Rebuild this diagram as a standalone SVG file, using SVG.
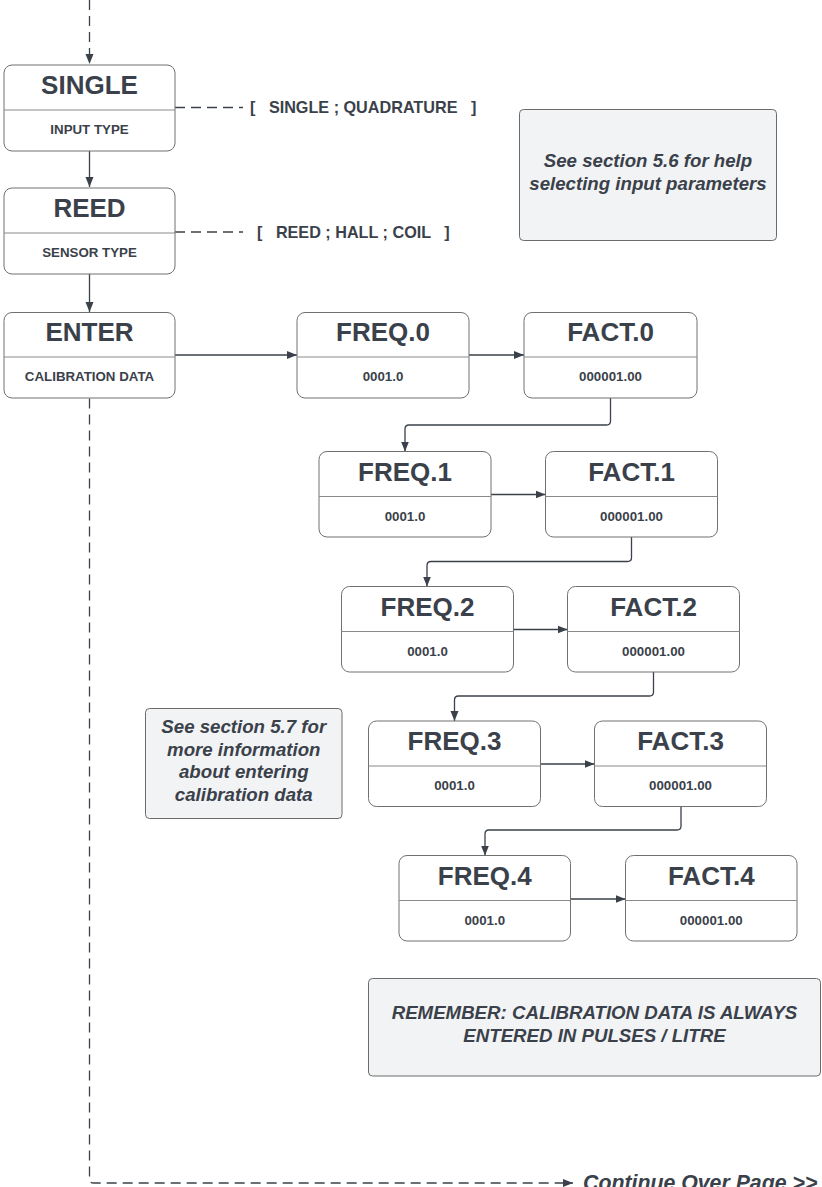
<svg xmlns="http://www.w3.org/2000/svg" width="822" height="1187" viewBox="0 0 822 1187">
<style>
.box{fill:#ffffff;stroke:#707070;stroke-width:1}
.div{stroke:#8a8a8a;stroke-width:1}
.note{fill:#f2f3f5;stroke:#6b6b6b;stroke-width:1}
.t{font-family:"Liberation Sans",Arial,sans-serif;font-weight:bold;font-size:26px;fill:#3a414a;text-anchor:middle}
.s{font-family:"Liberation Sans",Arial,sans-serif;font-weight:bold;font-size:13.3px;fill:#3a414a;text-anchor:middle}
.o{font-family:"Liberation Sans",Arial,sans-serif;font-weight:bold;font-size:16.2px;fill:#3a414a;white-space:pre}
.n{font-family:"Liberation Sans",Arial,sans-serif;font-weight:bold;font-style:italic;font-size:18.67px;fill:#3a414a;text-anchor:middle}
.c{fill:none;stroke:#3a414a;stroke-width:1.3}
.d{fill:none;stroke:#3a414a;stroke-width:1.3;stroke-dasharray:10 6}
</style>
<defs>
<marker id="ah" viewBox="0 0 10 10" refX="10" refY="5" markerWidth="10" markerHeight="10" markerUnits="userSpaceOnUse" orient="auto">
<path d="M0 1 L10 5 L0 9 Z" fill="#3a414a"/>
</marker>
</defs>

<g id="connectors">
<path class="d" d="M89.5 0 V64" marker-end="url(#ah)"/>
<path class="c" d="M89.5 151 V187" marker-end="url(#ah)"/>
<path class="c" d="M89.5 274 V312" marker-end="url(#ah)"/>
<path class="d" d="M175 107.5 H243"/>
<path class="d" d="M175 232 H243"/>
<path class="c" d="M175 355 H297" marker-end="url(#ah)"/>
<path class="c" d="M469 355 H524" marker-end="url(#ah)"/>
<path class="c" d="M610.5 398 V421 Q610.5 425 606.5 425 H409 Q405 425 405 429 V451.5" marker-end="url(#ah)"/>
<path class="c" d="M491 494.5 H545.5" marker-end="url(#ah)"/>
<path class="c" d="M631.5 537 V557.5 Q631.5 561.5 627.5 561.5 H431 Q427 561.5 427 565.5 V586.5" marker-end="url(#ah)"/>
<path class="c" d="M513.5 629.5 H567.5" marker-end="url(#ah)"/>
<path class="c" d="M653.5 672 V692 Q653.5 696 649.5 696 H458.5 Q454.5 696 454.5 700 V721" marker-end="url(#ah)"/>
<path class="c" d="M540.5 764 H594.5" marker-end="url(#ah)"/>
<path class="c" d="M681 806.5 V826 Q681 830 677 830 H489 Q485 830 485 834 V855.5" marker-end="url(#ah)"/>
<path class="c" d="M570.5 899 H625.5" marker-end="url(#ah)"/>
<path class="d" d="M89.5 398.5 V1179 Q89.5 1183 93.5 1183 H573" marker-end="url(#ah)"/>
</g>

<g id="single">
<rect class="box" x="4" y="65" width="171" height="86" rx="8"/>
<line class="div" x1="4" y1="110" x2="175" y2="110"/>
<text class="t" x="89.5" y="94">SINGLE</text>
<text class="s" x="89.5" y="134">INPUT TYPE</text>
</g>
<text id="single-options" class="o" x="250" y="113">[   SINGLE ; QUADRATURE   ]</text>

<g id="reed">
<rect class="box" x="4" y="188" width="171" height="86" rx="8"/>
<line class="div" x1="4" y1="233" x2="175" y2="233"/>
<text class="t" x="89.5" y="217">REED</text>
<text class="s" x="89.5" y="257">SENSOR TYPE</text>
</g>
<text id="reed-options" class="o" x="257" y="238">[   REED ; HALL ; COIL   ]</text>

<g id="enter">
<rect class="box" x="4" y="312.5" width="171" height="85.5" rx="8"/>
<line class="div" x1="4" y1="357" x2="175" y2="357"/>
<text class="t" x="89.5" y="341">ENTER</text>
<text class="s" x="89.5" y="381">CALIBRATION DATA</text>
</g>

<g id="freq0">
<rect class="box" x="297" y="312.5" width="172" height="85.5" rx="8"/>
<line class="div" x1="297" y1="357" x2="469" y2="357"/>
<text class="t" x="383" y="341">FREQ.0</text>
<text class="s" x="383" y="381">0001.0</text>
</g>
<g id="fact0">
<rect class="box" x="524" y="312.5" width="173" height="85.5" rx="8"/>
<line class="div" x1="524" y1="357" x2="697" y2="357"/>
<text class="t" x="610.5" y="341">FACT.0</text>
<text class="s" x="610.5" y="381">000001.00</text>
</g>

<g id="freq1">
<rect class="box" x="319" y="451.5" width="172" height="85.5" rx="8"/>
<line class="div" x1="319" y1="496.5" x2="491" y2="496.5"/>
<text class="t" x="405" y="480.5">FREQ.1</text>
<text class="s" x="405" y="520.5">0001.0</text>
</g>
<g id="fact1">
<rect class="box" x="545.5" y="451.5" width="172" height="85.5" rx="8"/>
<line class="div" x1="545.5" y1="496.5" x2="717.5" y2="496.5"/>
<text class="t" x="631.5" y="480.5">FACT.1</text>
<text class="s" x="631.5" y="520.5">000001.00</text>
</g>

<g id="freq2">
<rect class="box" x="341.5" y="586.5" width="172" height="85.5" rx="8"/>
<line class="div" x1="341.5" y1="631.5" x2="513.5" y2="631.5"/>
<text class="t" x="427.5" y="615.5">FREQ.2</text>
<text class="s" x="427.5" y="655.5">0001.0</text>
</g>
<g id="fact2">
<rect class="box" x="567.5" y="586.5" width="172" height="85.5" rx="8"/>
<line class="div" x1="567.5" y1="631.5" x2="739.5" y2="631.5"/>
<text class="t" x="653.5" y="615.5">FACT.2</text>
<text class="s" x="653.5" y="655.5">000001.00</text>
</g>

<g id="freq3">
<rect class="box" x="368.5" y="721" width="172" height="85.5" rx="8"/>
<line class="div" x1="368.5" y1="766" x2="540.5" y2="766"/>
<text class="t" x="454.5" y="750">FREQ.3</text>
<text class="s" x="454.5" y="790">0001.0</text>
</g>
<g id="fact3">
<rect class="box" x="594.5" y="721" width="172" height="85.5" rx="8"/>
<line class="div" x1="594.5" y1="766" x2="766.5" y2="766"/>
<text class="t" x="680.5" y="750">FACT.3</text>
<text class="s" x="680.5" y="790">000001.00</text>
</g>

<g id="freq4">
<rect class="box" x="399" y="855.5" width="171.5" height="85.5" rx="8"/>
<line class="div" x1="399" y1="900.5" x2="570.5" y2="900.5"/>
<text class="t" x="484.75" y="884.5">FREQ.4</text>
<text class="s" x="484.75" y="924.5">0001.0</text>
</g>
<g id="fact4">
<rect class="box" x="625.5" y="855.5" width="171.5" height="85.5" rx="8"/>
<line class="div" x1="625.5" y1="900.5" x2="797" y2="900.5"/>
<text class="t" x="711.25" y="884.5">FACT.4</text>
<text class="s" x="711.25" y="924.5">000001.00</text>
</g>

<g id="note-input">
<rect class="note" x="519.5" y="109.5" width="257" height="131" rx="4"/>
<text class="n" x="648" y="166.5">See section 5.6 for help</text>
<text class="n" x="648" y="189.5">selecting input parameters</text>
</g>

<g id="note-calibration">
<rect class="note" x="145.5" y="708.5" width="196.5" height="110" rx="4"/>
<text class="n" x="243.75" y="733">See section 5.7 for</text>
<text class="n" x="243.75" y="755.5">more information</text>
<text class="n" x="243.75" y="778">about entering</text>
<text class="n" x="243.75" y="800.5">calibration data</text>
</g>

<g id="note-remember">
<rect class="note" x="368.5" y="978.5" width="452" height="97.5" rx="4"/>
<text class="n" x="594.5" y="1019">REMEMBER: CALIBRATION DATA IS ALWAYS</text>
<text class="n" x="594.5" y="1042">ENTERED IN PULSES / LITRE</text>
</g>

<text id="continue" class="n" x="583" y="1190" style="text-anchor:start;font-size:21.3px">Continue Over Page &gt;&gt;</text>
</svg>
